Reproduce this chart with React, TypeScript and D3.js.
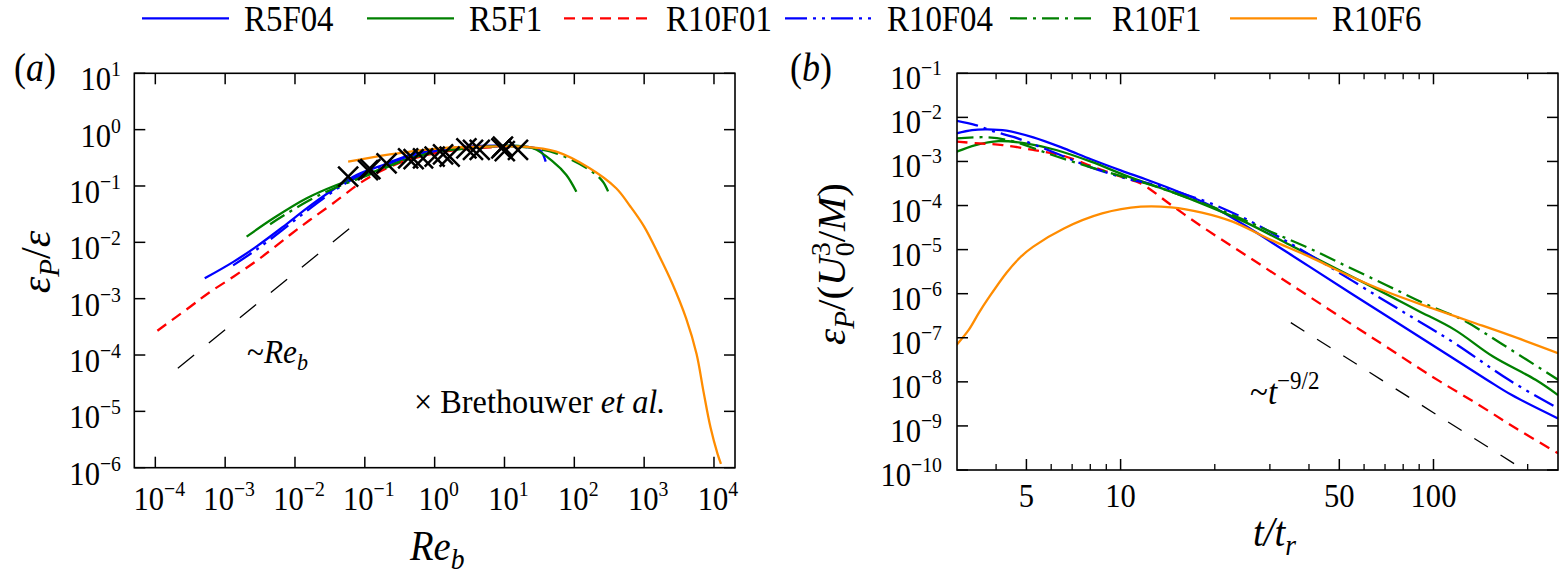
import React from 'react';
import * as d3 from 'd3';

type Pt = [number, number];

// legend entries, in the order of the top row
const runNames = ['R5F04', 'R5F1', 'R10F01', 'R10F04', 'R10F1', 'R10F6'];

// ---- panel (a): eps_P/eps against Re_b ----
const aR5F04: Pt[] = [
  [5.1e-4, 2.3e-3], [1.31e-3, 4.5e-3], [2.8e-3, 8.4e-3], [6.8e-3, 1.9e-2],
  [1.47e-2, 4.0e-2], [3.16e-2, 7.9e-2], [7.6e-2, 0.157], [0.183, 0.236],
  [0.44, 0.355], [1.06, 0.436], [2.85, 0.5], [7.7, 0.52], [18.4, 0.5],
  [31.9, 0.436], [38.9, 0.27],
];
const aR5F1: Pt[] = [
  [2.03e-3, 1.26e-2], [4.9e-3, 2.67e-2], [1.47e-2, 6.05e-2], [3.94e-2, 0.104],
  [0.118, 0.168], [0.353, 0.289], [1.06, 0.406], [3.54, 0.479], [10.6, 0.519],
  [25.6, 0.467], [49.4, 0.27], [76.9, 0.157], [107, 0.079],
];
const aR10F01: Pt[] = [
  [1.07e-4, 2.7e-4], [3.16e-4, 7.2e-4], [5.73e-4, 1.25e-3], [1.31e-3, 2.45e-3],
  [3.15e-3, 5.2e-3], [8.45e-3, 1.35e-2], [1.63e-2, 2.49e-2], [3.52e-2, 4.93e-2],
  [8.5e-2, 0.112], [0.147, 0.168], [0.353, 0.27], [1, 0.38], [3.16, 0.457],
  [10, 0.49], [15.8, 0.468],
];
const aR10F04: Pt[] = [
  [1.3e-3, 3.9e-3], [2.8e-3, 7.4e-3], [6.8e-3, 1.7e-2], [1.47e-2, 3.6e-2],
  [3.16e-2, 7.3e-2], [7.6e-2, 0.145], [0.18, 0.225], [0.44, 0.34], [1.06, 0.42],
  [2.85, 0.48], [7.66, 0.5], [15, 0.49],
];
const aR10F1: Pt[] = [
  [4.4e-3, 2.1e-2], [1.47e-2, 5.25e-2], [3.94e-2, 0.095], [0.118, 0.16],
  [0.353, 0.28], [1.06, 0.4], [3.54, 0.47], [10.6, 0.51], [25, 0.47],
  [55, 0.38], [166, 0.192], [257, 0.119], [320, 0.069],
];
const aR10F6: Pt[] = [
  [0.0577, 0.27], [0.228, 0.363], [1.18, 0.467], [6.14, 0.499], [18.4, 0.499],
  [55.2, 0.406], [166, 0.206], [398, 0.0912], [631, 0.0437], [1000, 0.019],
  [1585, 6.3e-3], [2512, 1.9e-3], [3981, 4.5e-4], [5623, 1.05e-4],
  [7079, 2.24e-5], [8913, 5.2e-6], [11220, 1.78e-6], [12590, 1.17e-6],
];
// Brethouwer et al. points
const aBrethouwer: Pt[] = [
  [0.0577, 0.146], [0.111, 0.192], [0.12, 0.2], [0.205, 0.253], [0.417, 0.31],
  [0.5, 0.3], [0.682, 0.31], [1.0, 0.331], [1.32, 0.363], [1.64, 0.331],
  [2.85, 0.467], [3.54, 0.436], [4.42, 0.436], [9.02, 0.467], [9.5, 0.5],
  [10.1, 0.417], [15.6, 0.436],
];
// ~Re_b guide line
const aGuide: Pt[] = [[2.1e-4, 5.8e-5], [6.1e-2, 1.78e-2]];

const aXExp = [-4, -3, -2, -1, 0, 1, 2, 3, 4];
const aYExp = [-6, -5, -4, -3, -2, -1, 0, 1];

// ---- panel (b): eps_P/(U0^3/M) against t/t_r ----
const bR5F04: Pt[] = [
  [2.99, 4.34e-3], [3.35, 5.16e-3], [3.75, 5.35e-3], [4.32, 4.99e-3],
  [5.26, 3.52e-3], [6.59, 1.98e-3], [8.04, 1.12e-3], [10.05, 6.18e-4],
  [12.2, 3.79e-4], [15.3, 2.06e-4], [19.2, 1.03e-4], [23.4, 4.68e-5],
  [39.8, 4.27e-6], [63.1, 5.25e-7], [100, 6.61e-8], [148, 1.12e-8],
  [178, 5.01e-9], [250, 1.48e-9],
];
const bR5F1: Pt[] = [
  [2.99, 1.66e-3], [3.44, 2.36e-3], [4.07, 2.9e-3], [4.97, 2.57e-3],
  [6.22, 1.82e-3], [8.04, 9.89e-4], [10.6, 4.52e-4], [14.5, 2.06e-4],
  [19.2, 9.42e-5], [25.5, 3.94e-5], [34.8, 1.27e-5], [47.4, 4.11e-6],
  [66.5, 1.22e-6], [88.3, 4.28e-7], [117, 1.51e-7], [155, 3.74e-8],
  [212, 1.11e-8], [250, 5.01e-9],
];
const bR10F01: Pt[] = [
  [2.99, 2.81e-3], [3.54, 2.57e-3], [4.2, 2.36e-3], [5.26, 1.82e-3],
  [6.59, 1.33e-3], [8.26, 7.35e-4], [10.4, 4.14e-4], [11.6, 3.18e-4],
  [14.5, 1.03e-4], [18.2, 3.32e-5], [22.8, 1.17e-5], [28.6, 4.11e-6],
  [35.8, 1.45e-6], [44.9, 5.09e-7], [56.2, 1.79e-7], [70.5, 6.31e-8],
  [98.9, 1.32e-8], [138, 3.16e-9], [185, 8.5e-10], [250, 2.4e-10],
];
const bR10F04: Pt[] = [
  [2.99, 8.39e-3], [3.44, 6.7e-3], [3.96, 4.73e-3], [4.57, 3.55e-3],
  [6.05, 1.66e-3], [8.04, 7.35e-4], [10.4, 4.14e-4], [13.3, 2.77e-4],
  [16.3, 1.73e-4], [19.2, 1.16e-4], [25.5, 4.7e-5], [34.8, 1.39e-5],
  [47.4, 3.77e-6], [66.5, 8.57e-7], [88.3, 2.54e-7], [117, 7.5e-8],
  [174, 1.11e-8], [250, 2.51e-9],
];
const bR10F1: Pt[] = [
  [2.99, 3.34e-3], [3.75, 3.52e-3], [4.57, 2.81e-3], [6.05, 1.4e-3],
  [8.04, 7.35e-4], [9.77, 4.92e-4], [13.0, 2.68e-4], [17.2, 1.33e-4],
  [22.8, 6.1e-5], [30.2, 2.55e-5], [40.1, 1.07e-5], [53.1, 4.11e-6],
  [70.5, 1.58e-6], [93.3, 6.05e-7], [124, 2.54e-7], [164, 7.5e-8],
  [250, 1.12e-8],
];
const bR10F6: Pt[] = [
  [2.99, 6.9e-8], [3.27, 1.51e-7], [3.52, 3.63e-7], [3.78, 7.9e-7],
  [4.32, 3.0e-6], [4.79, 6.8e-6], [5.26, 1.17e-5], [6.59, 3.02e-5],
  [8.73, 6.61e-5], [11.6, 9.42e-5], [14.5, 9.12e-5], [18.2, 6.92e-5],
  [22.8, 4.31e-5], [30.2, 1.66e-5], [40.1, 6.92e-6], [53.1, 2.66e-6],
  [70.5, 1.12e-6], [98.9, 4.68e-7], [131, 2.34e-7], [174, 1.16e-7],
  [250, 4.47e-8],
];
// ~t^-9/2 guide line
const bGuide: Pt[] = [[35, 2.2e-7], [195, 1e-10]];

const bYExp = [-10, -9, -8, -7, -6, -5, -4, -3, -2, -1];
const bXMajor = [5, 10, 50, 100];
const bXMinor = [4, 6, 7, 8, 9, 20, 30, 40, 60, 70, 80, 90, 200];

const aSeries = [aR5F04, aR5F1, aR10F01, aR10F04, aR10F1, aR10F6];
const bSeries = [bR5F04, bR5F1, bR10F01, bR10F04, bR10F1, bR10F6];

const runStyle: Record<string, { color: string; dash?: string }> = {
  R5F04: { color: '#0000ff' },
  R5F1: { color: '#008000' },
  R10F01: { color: '#ff0000', dash: '11,7' },
  R10F04: { color: '#0000ff', dash: '22,6,3,6,3,6' },
  R10F1: { color: '#008000', dash: '17,6,3,6' },
  R10F6: { color: '#ff8c00' },
};

const FONT = '"Liberation Serif"';

const A = { left: 134.3, right: 735, top: 73.3, bottom: 467.7 };
const B = { left: 957, right: 1558, top: 73.3, bottom: 470 };

const xA = d3.scaleLog().domain([5e-5, 2e4]).range([A.left, A.right]);
const yA = d3.scaleLog().domain([1e-6, 10]).range([A.bottom, A.top]);
const xB = d3.scaleLog().domain([3, 250]).range([B.left, B.right]);
const yB = d3.scaleLog().domain([1e-10, 1e-1]).range([B.bottom, B.top]);

const makeLine = (x: any, y: any) =>
  d3
    .line<Pt>()
    .x((d) => x(d[0]))
    .y((d) => y(d[1]))
    .curve(d3.curveCatmullRom.alpha(0.5));

const lineA = makeLine(xA, yA);
const lineB = makeLine(xB, yB);

const expText = (e: number) => (e < 0 ? '\u2212' + -e : String(e));

// text squeezed horizontally, like the narrow serif of the figure
const T = ({
  x,
  y,
  sx = 0.9,
  size = 34,
  anchor = 'start',
  italic = false,
  children,
}: {
  x: number;
  y: number;
  sx?: number;
  size?: number;
  anchor?: string;
  italic?: boolean;
  children: React.ReactNode;
}) => (
  <g transform={`translate(${x},${y}) scale(${sx},1)`}>
    <text
      x={0}
      y={0}
      textAnchor={anchor}
      style={{ fontFamily: FONT, fontSize: size, fontStyle: italic ? 'italic' : 'normal' }}
    >
      {children}
    </text>
  </g>
);

const Pow10 = ({ x, y, e, anchor }: { x: number; y: number; e: number; anchor: string }) => (
  <T x={x} y={y} anchor={anchor} sx={0.9} size={34}>
    10
    <tspan dy={-14} style={{ fontSize: 22 }}>
      {expText(e)}
    </tspan>
  </T>
);

const TICK = 11;
const MINOR = 6;

const Frame = ({ box }: { box: typeof A }) => (
  <rect
    x={box.left}
    y={box.top}
    width={box.right - box.left}
    height={box.bottom - box.top}
    fill="none"
    stroke="#000"
    strokeWidth={1.6}
  />
);

const PanelA = () => {
  return (
    <g>
      <defs>
        <clipPath id="clipA">
          <rect x={A.left} y={A.top} width={A.right - A.left} height={A.bottom - A.top} />
        </clipPath>
      </defs>
      <g clipPath="url(#clipA)">
        <path
          d={lineA(aGuide) || ''}
          fill="none"
          stroke="#000"
          strokeWidth={1.3}
          strokeDasharray="21,19"
        />
        {aSeries.map((s, i) => {
          const st = runStyle[runNames[i]];
          return (
            <path
              key={i}
              d={lineA(s) || ''}
              fill="none"
              stroke={st.color}
              strokeWidth={2.3}
              strokeDasharray={st.dash}
            />
          );
        })}
        {aBrethouwer.map((d, i) => {
          const cx = xA(d[0]);
          const cy = yA(d[1]);
          const r = 10;
          return (
            <path
              key={i}
              d={`M${cx - r},${cy - r}L${cx + r},${cy + r}M${cx - r},${cy + r}L${cx + r},${cy - r}`}
              stroke="#000"
              strokeWidth={2.5}
              fill="none"
            />
          );
        })}
      </g>
      <Frame box={A} />
      {aXExp.map((e) => {
        const px = xA(Math.pow(10, e));
        return (
          <g key={e}>
            <line x1={px} x2={px} y1={A.bottom} y2={A.bottom - TICK} stroke="#000" strokeWidth={1.5} />
            <line x1={px} x2={px} y1={A.top} y2={A.top + TICK} stroke="#000" strokeWidth={1.5} />
            <Pow10 x={px + 4} y={510} e={e} anchor="middle" />
          </g>
        );
      })}
      {aYExp.map((e) => {
        const py = yA(Math.pow(10, e));
        return (
          <g key={e}>
            <line x1={A.left} x2={A.left + TICK} y1={py} y2={py} stroke="#000" strokeWidth={1.5} />
            <line x1={A.right} x2={A.right - TICK} y1={py} y2={py} stroke="#000" strokeWidth={1.5} />
            <Pow10 x={121} y={py + 17} e={e} anchor="end" />
          </g>
        );
      })}
      <T x={247} y={363} size={34} sx={0.92}>
        ~<tspan style={{ fontStyle: 'italic' }}>Re</tspan>
        <tspan style={{ fontStyle: 'italic', fontSize: 24 }} dy={7}>
          b
        </tspan>
      </T>
      <T x={414} y={413} size={34} sx={0.95}>
        {'\u00d7 Brethouwer '}
        <tspan style={{ fontStyle: 'italic' }}>et al.</tspan>
      </T>
      <T x={410} y={560} size={42} sx={0.92} italic>
        Re
        <tspan style={{ fontSize: 30 }} dy={9}>
          b
        </tspan>
      </T>
      <text
        transform="translate(50,262) rotate(-90)"
        textAnchor="middle"
        style={{ fontFamily: FONT, fontSize: 42 }}
      >
        <tspan style={{ fontStyle: 'italic' }}>ε</tspan>
        <tspan style={{ fontStyle: 'italic', fontSize: 29 }} dy={9}>
          P
        </tspan>
        <tspan dy={-9}>/</tspan>
        <tspan style={{ fontStyle: 'italic' }}>ε</tspan>
      </text>
      <T x={14} y={81} size={40} sx={0.9}>
        (<tspan style={{ fontStyle: 'italic' }}>a</tspan>)
      </T>
    </g>
  );
};

const PanelB = () => {
  return (
    <g>
      <defs>
        <clipPath id="clipB">
          <rect x={B.left} y={B.top} width={B.right - B.left} height={B.bottom - B.top} />
        </clipPath>
      </defs>
      <g clipPath="url(#clipB)">
        <path
          d={lineB(bGuide) || ''}
          fill="none"
          stroke="#000"
          strokeWidth={1.3}
          strokeDasharray="16,15"
        />
        {bSeries.map((s, i) => {
          const st = runStyle[runNames[i]];
          return (
            <path
              key={i}
              d={lineB(s) || ''}
              fill="none"
              stroke={st.color}
              strokeWidth={2.3}
              strokeDasharray={st.dash}
            />
          );
        })}
      </g>
      <Frame box={B} />
      {bXMajor.map((v) => {
        const px = xB(v);
        return (
          <g key={v}>
            <line x1={px} x2={px} y1={B.bottom} y2={B.bottom - TICK} stroke="#000" strokeWidth={1.5} />
            <line x1={px} x2={px} y1={B.top} y2={B.top + TICK} stroke="#000" strokeWidth={1.5} />
            <T x={px} y={507} anchor="middle" size={34} sx={0.9}>
              {v}
            </T>
          </g>
        );
      })}
      {bXMinor.map((v) => {
        const px = xB(v);
        return (
          <g key={v}>
            <line x1={px} x2={px} y1={B.bottom} y2={B.bottom - MINOR} stroke="#000" strokeWidth={1.3} />
            <line x1={px} x2={px} y1={B.top} y2={B.top + MINOR} stroke="#000" strokeWidth={1.3} />
          </g>
        );
      })}
      {bYExp.map((e) => {
        const py = yB(Math.pow(10, e));
        return (
          <g key={e}>
            <line x1={B.left} x2={B.left + TICK} y1={py} y2={py} stroke="#000" strokeWidth={1.5} />
            <line x1={B.right} x2={B.right - TICK} y1={py} y2={py} stroke="#000" strokeWidth={1.5} />
            <Pow10 x={942} y={py + 16} e={e} anchor="end" />
          </g>
        );
      })}
      <T x={1250} y={404} size={36} sx={0.92}>
        ~<tspan style={{ fontStyle: 'italic' }}>t</tspan>
        <tspan style={{ fontSize: 25 }} dy={-15}>
          {'\u22129/2'}
        </tspan>
      </T>
      <T x={1253} y={546} size={42} sx={0.92} italic>
        t/t
        <tspan style={{ fontSize: 30 }} dy={9}>
          r
        </tspan>
      </T>
      <text
        transform="translate(845,264) rotate(-90)"
        textAnchor="middle"
        style={{ fontFamily: FONT, fontSize: 41 }}
      >
        <tspan style={{ fontStyle: 'italic' }}>ε</tspan>
        <tspan style={{ fontStyle: 'italic', fontSize: 29 }} dy={9}>
          P
        </tspan>
        <tspan dy={-9}>/(</tspan>
        <tspan style={{ fontStyle: 'italic' }}>U</tspan>
        <tspan style={{ fontSize: 28 }} dy={9}>
          0
        </tspan>
        <tspan style={{ fontSize: 28 }} dx={-14} dy={-24}>
          3
        </tspan>
        <tspan dy={15}>/</tspan>
        <tspan style={{ fontStyle: 'italic' }}>M</tspan>
        <tspan>)</tspan>
      </text>
      <T x={790} y={81} size={40} sx={0.9}>
        (<tspan style={{ fontStyle: 'italic' }}>b</tspan>)
      </T>
    </g>
  );
};

const Legend = () => {
  const starts = [142, 367, 564, 785, 1010, 1230];
  return (
    <g>
      {runNames.map((name, i) => {
        const st = runStyle[name];
        const x0 = starts[i];
        return (
          <g key={name}>
            <line
              x1={x0}
              x2={x0 + 87}
              y1={18.3}
              y2={18.3}
              stroke={st.color}
              strokeWidth={2.3}
              strokeDasharray={st.dash}
            />
            <T x={x0 + 102} y={30.5} size={35} sx={0.94}>
              {name}
            </T>
          </g>
        );
      })}
    </g>
  );
};

const App = () => (
  <svg
    width={1559}
    height={584}
    style={{ position: 'absolute', left: 0, top: 0, background: '#fff' }}
  >
    <rect width={1559} height={584} fill="#fff" />
    <Legend />
    <PanelA />
    <PanelB />
  </svg>
);

export default App;
